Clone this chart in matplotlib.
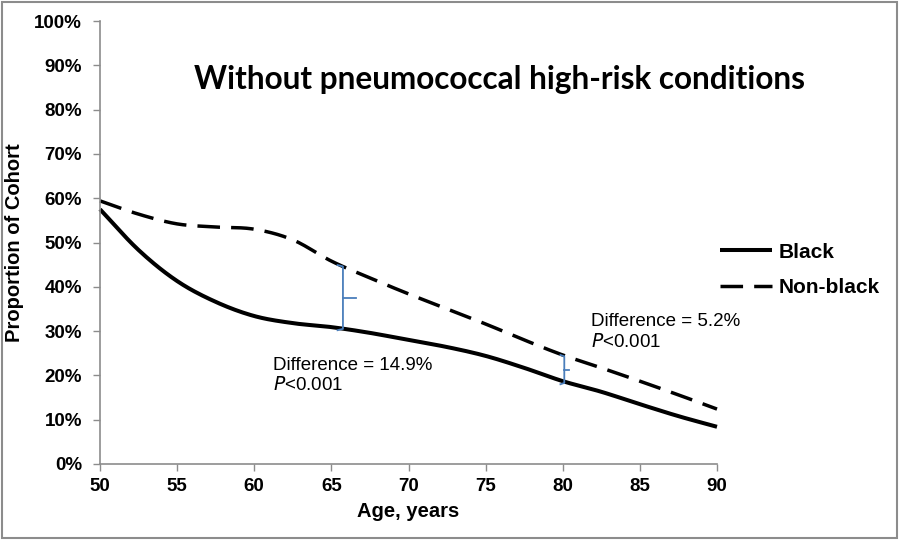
import numpy as np
import matplotlib
matplotlib.use("Agg")
import matplotlib.pyplot as plt
from matplotlib.patches import Rectangle

# ---- data ----
ages = [50, 52.5, 55, 57.5, 60, 62.5, 65, 67.5, 70, 72.5, 75, 77.5, 80, 82.5, 85, 87.5, 90]
black = [57.5, 48.3, 41.3, 36.6, 33.4, 31.8, 30.9, 29.6, 28.0, 26.4, 24.4, 21.7, 18.7, 16.3, 13.5, 10.8, 8.4]
nonblack = [59.4, 56.4, 54.2, 53.5, 53.0, 50.6, 45.8, 42.0, 38.4, 35.0, 31.6, 28.0, 24.6, 21.7, 18.7, 15.6, 12.4]

brace_x = [65.75, 80.1]
brace_low = [30.2, 18.0]
brace_high = [44.9, 24.6]
diff_labels = ["Difference = 14.9%", "Difference = 5.2%"]
p_label = "<0.001"

x_ticks = [50, 55, 60, 65, 70, 75, 80, 85, 90]
y_ticks = list(range(0, 101, 10))


def smooth(xs, ys, n=20):
    """Catmull-Rom style smoothing for drawing (like Excel smoothed lines)."""
    xs = np.asarray(xs, float)
    ys = np.asarray(ys, float)
    P = np.column_stack([xs, ys])
    P = np.vstack([2 * P[0] - P[1], P, 2 * P[-1] - P[-2]])
    out = []
    for i in range(1, len(P) - 2):
        p0, p1, p2, p3 = P[i - 1], P[i], P[i + 1], P[i + 2]
        t = np.linspace(0, 1, n, endpoint=False)[:, None]
        seg = 0.5 * ((2 * p1) + (-p0 + p2) * t + (2 * p0 - 5 * p1 + 4 * p2 - p3) * t ** 2
                     + (-p0 + 3 * p1 - 3 * p2 + p3) * t ** 3)
        out.append(seg)
    out.append(P[-2][None, :])
    out = np.vstack(out)
    return out[:, 0], out[:, 1]


plt.rcParams['font.family'] = ['Liberation Sans', 'DejaVu Sans']

fig = plt.figure(figsize=(9, 5.4), dpi=100)
ax = fig.add_axes([100 / 900, 1 - 464 / 540, (717 - 100) / 900, (464 - 21) / 540])

bx, by = smooth(ages, black)
nx, ny = smooth(ages, nonblack)
ax.plot(bx, by, color='black', lw=2.9, solid_capstyle='butt', label='Black', clip_on=False)
ax.plot(nx, ny, color='black', lw=2.5, dashes=(6.5, 3.2), label='Non-black', clip_on=False)

blue = '#4a7ebb'
hooks = [0.35, 0.25]
ticks_r = [0.85, 0.3]
for x, lo, hi, hk, tr in zip(brace_x, brace_low, brace_high, hooks, ticks_r):
    mid = (lo + hi) / 2
    ax.plot([x - hk, x, x, x - hk], [hi, hi - 0.3, lo + 0.3, lo], color=blue, lw=1.3)
    ax.plot([x, x + tr], [mid, mid], color=blue, lw=1.3)

ax.text(61.2, 20.4, diff_labels[0], fontsize=13.5, ha='left', va='bottom')
ax.text(61.2, 15.8, r'$\it{P}$' + p_label, fontsize=13.5, ha='left', va='bottom')
ax.text(81.8, 30.2, diff_labels[1], fontsize=13.5, ha='left', va='bottom')
ax.text(81.8, 25.6, r'$\it{P}$' + p_label, fontsize=13.5, ha='left', va='bottom')

ax.set_xlim(50, 90)
ax.set_ylim(0, 100)
ax.set_xticks(x_ticks)
ax.set_yticks(y_ticks)
ax.set_yticklabels([f"{v}%" for v in y_ticks])
for lab in ax.get_xticklabels() + ax.get_yticklabels():
    lab.set_fontweight('bold')
    lab.set_fontsize(13.5)
ax.tick_params(axis='both', direction='out', length=5, width=1, color='#8c8c8c', pad=5)
ax.tick_params(axis='y', pad=8)
for s in ['top', 'right']:
    ax.spines[s].set_visible(False)
for s in ['left', 'bottom']:
    ax.spines[s].set_color('#8c8c8c')
    ax.spines[s].set_linewidth(1.2)

ax.set_xlabel('Age, years', fontsize=14.5, fontweight='bold', labelpad=5)
ax.set_ylabel('Proportion of Cohort', fontsize=14.5, fontweight='bold', labelpad=7)

fig.text(500 / 900, 1 - 80 / 540, 'Without pneumococcal high-risk conditions',
         fontsize=22.7, fontweight='bold', ha='center', va='center', family=['Lato', 'DejaVu Sans'])

leg = fig.legend(loc='center left', bbox_to_anchor=(720 / 900, 1 - 270 / 540), frameon=False,
                 handlelength=2.5, labelspacing=0.8, handletextpad=0.3, borderpad=0,
                 borderaxespad=0, prop={'weight': 'bold', 'size': 15})

fig.patches.append(Rectangle((0.002, 0.003), 0.995, 0.994, transform=fig.transFigure,
                             fill=False, edgecolor='#8c8c8c', lw=1.5))

fig.savefig('out.png', dpi=100)
